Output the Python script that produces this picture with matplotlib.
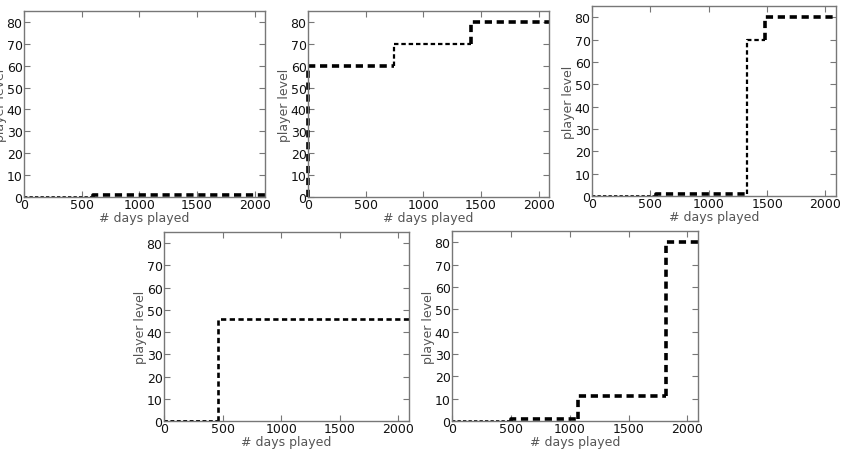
import matplotlib.pyplot as plt

# step data per panel: breakpoints (days), level after each breakpoint, line width of that segment
p1_days = [0, 600]
p1_level = [0, 1]
p1_lw = [1.2, 2.6]

p2_days = [0, 0, 750, 1410]
p2_level = [0, 60, 70, 80]
p2_lw = [1.2, 2.6, 1.6, 2.6]

p3_days = [0, 550, 1330, 1480]
p3_level = [0, 1, 70, 80]
p3_lw = [1.2, 2.6, 1.6, 2.6]

p4_days = [0, 460]
p4_level = [0, 46]
p4_lw = [1.4, 1.9]

p5_days = [0, 500, 1070, 1820]
p5_level = [0, 1, 11, 80]
p5_lw = [1.2, 2.6, 2.6, 2.6]

panels = [(p1_days, p1_level, p1_lw), (p2_days, p2_level, p2_lw),
          (p3_days, p3_level, p3_lw), (p4_days, p4_level, p4_lw),
          (p5_days, p5_level, p5_lw)]

W, H = 842, 456
# axes boxes in pixels: left, top, right, bottom
boxes = [(24, 12, 265, 198), (308, 12, 549, 198), (592, 7, 836, 197),
         (164, 233, 409, 422), (452, 232, 698, 422)]

XMAX = 2090
fig = plt.figure(figsize=(W / 100, H / 100), dpi=100)

for (days, level, lws), (l, t, r, b) in zip(panels, boxes):
    ax = fig.add_axes([l / W, 1 - b / H, (r - l) / W, (b - t) / H])
    ends = days[1:] + [XMAX]
    for i in range(len(days)):
        xs = [days[i], ends[i]]
        ys = [level[i], level[i]]
        if i > 0:
            xs = [days[i]] + xs
            ys = [level[i - 1]] + ys
        ax.plot(xs, ys, color='black', lw=lws[i], linestyle=(0, (2, 1.3)),
                solid_capstyle='butt', dash_capstyle='butt', clip_on=False)
    ax.set_xlim(0, XMAX)
    ax.set_ylim(0, 85)
    ax.set_xticks([0, 500, 1000, 1500, 2000])
    ax.set_yticks(range(0, 81, 10))
    ax.tick_params(direction='in', length=4, labelsize=9, pad=1,
                   top=True, right=True, color='#777777', labelcolor='#111111')
    for s in ax.spines.values():
        s.set_color('#777777')
        s.set_linewidth(1.0)
    ax.set_xlabel('# days played', fontsize=9, color='#555555', labelpad=0)
    ax.set_ylabel('player level', fontsize=9, color='#555555', labelpad=0)

fig.savefig('out.png', dpi=100)
